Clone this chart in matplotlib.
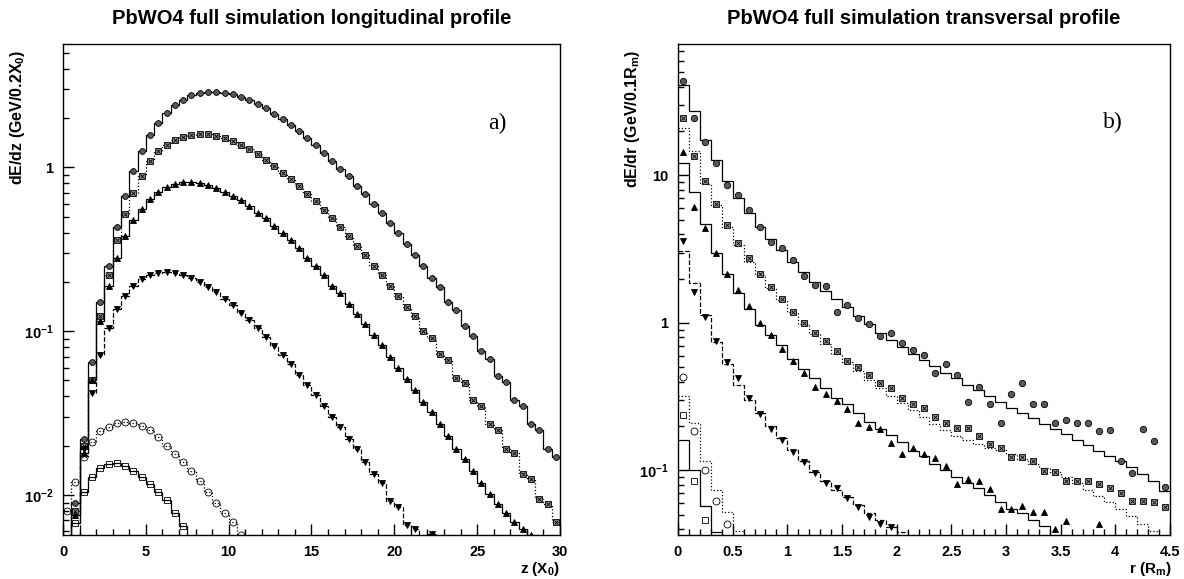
import numpy as np
import matplotlib.pyplot as plt
from matplotlib.ticker import (LogLocator, FixedLocator, MultipleLocator,
                               FuncFormatter, NullFormatter)

plt.rcParams['font.family'] = 'Liberation Sans'
plt.rcParams['font.weight'] = 'bold'
plt.rcParams['mathtext.fontset'] = 'custom'
plt.rcParams['mathtext.rm'] = 'Liberation Sans:bold'
plt.rcParams['mathtext.it'] = 'Liberation Sans:bold'
plt.rcParams['mathtext.bf'] = 'Liberation Sans:bold'

# ---- a) longitudinal profile, bins of 0.5 X0 starting at z = 0 ----
z_bin = 0.5
long_circles = [0.004, 0.009, 0.022, 0.065, 0.15, 0.25, 0.43, 0.67, 0.95, 1.26,
                1.57, 1.87, 2.15, 2.40, 2.59, 2.75, 2.84, 2.90, 2.90, 2.86,
                2.79, 2.69, 2.57, 2.43, 2.29, 2.13, 1.97, 1.82, 1.66, 1.51,
                1.37, 1.23, 1.10, 0.98, 0.88, 0.77, 0.69, 0.60, 0.53, 0.46,
                0.40, 0.34, 0.29, 0.25, 0.21, 0.185, 0.150, 0.135, 0.108, 0.094,
                0.076, 0.068, 0.053, 0.049, 0.038, 0.035, 0.027, 0.025, 0.019, 0.017]
long_squares = [0.003, 0.008, 0.02, 0.05, 0.124, 0.22, 0.36, 0.52, 0.70, 0.88,
                1.10, 1.25, 1.37, 1.47, 1.54, 1.58, 1.60, 1.59, 1.56, 1.51,
                1.45, 1.37, 1.29, 1.20, 1.11, 1.02, 0.93, 0.85, 0.77, 0.69,
                0.62, 0.55, 0.49, 0.43, 0.38, 0.33, 0.29, 0.25, 0.22, 0.19,
                0.165, 0.140, 0.124, 0.100, 0.091, 0.073, 0.067, 0.052, 0.048, 0.038,
                0.035, 0.027, 0.025, 0.019, 0.018, 0.0135, 0.0125, 0.0095, 0.0088, 0.0068]
long_up = [0.003, 0.0075, 0.018, 0.05, 0.115, 0.19, 0.28, 0.38, 0.475, 0.56,
           0.64, 0.71, 0.76, 0.79, 0.81, 0.81, 0.80, 0.78, 0.75, 0.71,
           0.67, 0.63, 0.58, 0.53, 0.49, 0.44, 0.40, 0.36, 0.32, 0.28,
           0.25, 0.22, 0.19, 0.17, 0.147, 0.127, 0.110, 0.095, 0.082, 0.070,
           0.060, 0.051, 0.044, 0.037, 0.032, 0.027, 0.023, 0.019, 0.0165, 0.014,
           0.0118, 0.0102, 0.0088, 0.0078, 0.0068, 0.0062, 0.0057]
long_down = [0.003, 0.005, 0.019, 0.042, 0.072, 0.104, 0.136, 0.165, 0.189, 0.208,
             0.221, 0.228, 0.230, 0.228, 0.221, 0.211, 0.200, 0.187, 0.173, 0.158,
             0.144, 0.130, 0.117, 0.104, 0.092, 0.081, 0.072, 0.063, 0.054, 0.047,
             0.041, 0.035, 0.030, 0.026, 0.022, 0.019, 0.016, 0.0135, 0.0118, 0.0092,
             0.0085, 0.0066, 0.0062, 0.0052, 0.0058]
long_open_circles = [0.008, 0.012, 0.017, 0.021, 0.0245, 0.026, 0.0275, 0.028, 0.0275, 0.0265,
                     0.025, 0.0225, 0.020, 0.0178, 0.0158, 0.014, 0.0122, 0.0105, 0.009, 0.0078,
                     0.0068, 0.0057]
long_open_squares = [0.0045, 0.0067, 0.0105, 0.0128, 0.0147, 0.0155, 0.0156, 0.0150, 0.0141, 0.0129,
                     0.0117, 0.0105, 0.0093, 0.0078, 0.0065, 0.0054]

# ---- b) transversal profile, bins of 0.1 Rm starting at r = 0 ----
r_bin = 0.1
tr_circles = [43.9, 24.4, 17.0, 12.1, 8.6, 7.35, 5.87, 4.46, 3.53, 3.24,
              2.67, 2.08, 1.80, 1.77, 1.19, 1.32, 1.08, 0.99, 0.81, 0.86,
              0.73, 0.66, 0.61, 0.46, 0.53, 0.44, 0.29, 0.37, 0.28, 0.21,
              0.33, 0.39, 0.28, 0.28, 0.21, 0.22, 0.21, 0.21, 0.185, 0.187,
              0.116, 0.096, 0.19, 0.158, 0.077]
tr_circles_mc = [40.9, 27.2, 17.5, 12.8, 9.2, 7.0, 5.6, 4.5, 3.7, 3.1,
                 2.6, 2.2, 1.9, 1.65, 1.45, 1.28, 1.12, 0.98, 0.86, 0.76,
                 0.69, 0.62, 0.56, 0.51, 0.46, 0.42, 0.38, 0.35, 0.32, 0.29,
                 0.265, 0.245, 0.225, 0.205, 0.19, 0.175, 0.16, 0.148, 0.136, 0.126,
                 0.116, 0.105, 0.094, 0.084, 0.072]
tr_squares = [24.4, 13.6, 9.14, 6.4, 4.65, 3.5, 2.75, 2.14, 1.74, 1.45,
              1.19, 1.0, 0.85, 0.75, 0.64, 0.55, 0.50, 0.44, 0.39, 0.36,
              0.31, 0.28, 0.265, 0.23, 0.21, 0.195, 0.195, 0.17, 0.15, 0.142,
              0.124, 0.124, 0.115, 0.099, 0.097, 0.084, 0.085, 0.085, 0.081, 0.076,
              0.070, 0.062, 0.062, 0.061, 0.056]
tr_squares_mc = [21.0, 14.7, 8.8, 6.3, 4.5, 3.4, 2.6, 2.1, 1.72, 1.42,
                 1.18, 0.98, 0.84, 0.72, 0.62, 0.54, 0.47, 0.41, 0.36, 0.32,
                 0.285, 0.255, 0.23, 0.207, 0.187, 0.172, 0.160, 0.150, 0.142, 0.137,
                 0.130, 0.120, 0.110, 0.103, 0.098, 0.090, 0.082, 0.074, 0.067, 0.061,
                 0.055, 0.049, 0.043, 0.039, 0.035]
tr_up = [14.4, 6.14, 4.37, 2.97, 2.16, 1.67, 1.30, 1.0, 0.83, 0.67,
         0.55, 0.46, 0.37, 0.33, 0.294, 0.26, 0.21, 0.198, 0.19, 0.153,
         0.129, 0.142, 0.13, 0.122, 0.107, 0.081, 0.087, 0.085, 0.075, 0.055,
         0.055, 0.057, 0.052, 0.052, 0.040, 0.045, np.nan, np.nan, 0.043]
tr_up_mc = [12.2, 7.7, 4.7, 3.0, 2.16, 1.6, 1.24, 0.97, 0.83, 0.71,
            0.57, 0.49, 0.42, 0.36, 0.31, 0.28, 0.245, 0.214, 0.19, 0.173,
            0.155, 0.136, 0.126, 0.11, 0.10, 0.090, 0.082, 0.076, 0.068, 0.061,
            0.055, 0.051, 0.046, 0.042, 0.036]
tr_down = [3.6, 1.63, 1.09, 0.75, 0.54, 0.42, 0.31, 0.24, 0.19, 0.16,
           0.134, 0.114, 0.096, 0.082, 0.076, 0.065, 0.056, 0.048, 0.043, 0.041]
tr_down_mc = [3.07, 1.87, 1.14, 0.74, 0.53, 0.38, 0.30, 0.244, 0.20, 0.165,
              0.138, 0.116, 0.098, 0.085, 0.074, 0.066, 0.058, 0.051, 0.046, 0.041,
              0.038]
tr_open_circles = [0.43, 0.185, 0.10, 0.062, 0.043]
tr_open_circles_mc = [0.32, 0.21, 0.116, 0.074, 0.052, 0.039]
tr_open_squares = [0.238, 0.085, 0.046]
tr_open_squares_mc = [0.16, 0.10, 0.057, 0.038]


def series(ax, width, vals, ls=None, marker=None, face='k', ms=4.2, cross=False):
    vals = np.asarray(vals, dtype=float)
    edges = np.arange(len(vals) + 1) * width
    if ls is not None:
        ax.stairs(vals, edges, baseline=None, color='k', linestyle=ls, lw=0.9)
    if marker is not None:
        cen = 0.5 * (edges[:-1] + edges[1:])
        ax.plot(cen, vals, ls='none', marker=marker, ms=ms, mfc=face,
                mec='k', mew=0.6)
        if cross:
            ax.plot(cen, vals, ls='none', marker='x', ms=ms * 0.6, mec='k',
                    mew=0.6)


def log_label(v, pos):
    e = int(round(np.log10(v)))
    if e >= 0:
        return '%d' % round(v)
    return r'$10^{%d}$' % e


def style(ax, xmax, xmajor, xminor, ylim, majors):
    ax.set_yscale('log')
    ax.set_xlim(0, xmax)
    ax.set_ylim(*ylim)
    ax.xaxis.set_major_locator(MultipleLocator(xmajor))
    ax.xaxis.set_minor_locator(MultipleLocator(xminor))
    ax.xaxis.set_major_formatter(FuncFormatter(lambda v, p: '%g' % v))
    ax.yaxis.set_major_locator(FixedLocator(majors))
    ax.yaxis.set_major_formatter(FuncFormatter(log_label))
    ax.yaxis.set_minor_locator(LogLocator(base=10, subs=np.arange(2, 10)))
    ax.yaxis.set_minor_formatter(NullFormatter())
    ax.tick_params(which='both', direction='in', top=False, right=False,
                   width=1, labelsize=10.5, pad=7)
    ax.tick_params(which='major', length=8)
    ax.tick_params(which='minor', length=4)
    for s in ax.spines.values():
        s.set_linewidth(1)


W, H = 1184, 579
fig = plt.figure(figsize=(W / 100, H / 100), dpi=100)
ax1 = fig.add_axes([63 / W, 1 - 535 / H, 497 / W, 491 / H])
ax2 = fig.add_axes([678 / W, 1 - 535 / H, 492 / W, 491 / H])

# a) longitudinal
series(ax1, z_bin, long_circles, '-', 'o', '0.35')
series(ax1, z_bin, long_squares, ':', 's', '0.55', cross=True)
series(ax1, z_bin, long_up, '-', '^', 'k')
series(ax1, z_bin, long_down, '--', 'v', 'k')
series(ax1, z_bin, long_open_circles, ':', 'o', 'none', ms=5)
series(ax1, z_bin, long_open_squares, '-', 's', 'none', ms=4.6)
style(ax1, 30, 5, 1, (0.0057, 5.66), [0.01, 0.1, 1])
ax1.text(26.2, 1.85, 'a)', family='Liberation Serif', weight='normal',
         fontsize=17, ha='center', va='center')

# b) transversal
series(ax2, r_bin, tr_circles_mc, '-')
series(ax2, r_bin, tr_circles, None, 'o', '0.35', ms=4.6)
series(ax2, r_bin, tr_squares_mc, ':')
series(ax2, r_bin, tr_squares, None, 's', '0.6', ms=4.6, cross=True)
series(ax2, r_bin, tr_up_mc, '-')
series(ax2, r_bin, tr_up, None, '^', 'k', ms=4.6)
series(ax2, r_bin, tr_down_mc, '--')
series(ax2, r_bin, tr_down, None, 'v', 'k', ms=4.6)
series(ax2, r_bin, tr_open_circles_mc, ':')
series(ax2, r_bin, tr_open_circles, None, 'o', 'none', ms=5)
series(ax2, r_bin, tr_open_squares_mc, '-')
series(ax2, r_bin, tr_open_squares, None, 's', 'none', ms=5)
style(ax2, 4.5, 0.5, 0.1, (0.0364, 78), [0.1, 1, 10])
ax2.text(3.98, 22.8, 'b)', family='Liberation Serif', weight='normal',
         fontsize=17, ha='center', va='center')

# titles and axis labels placed like the PAW layout
fig.text((63 + 560) / 2 / W, 1 - 18 / H, 'PbWO4 full simulation longitudinal profile',
         ha='center', va='center', fontsize=14.5)
fig.text((678 + 1170) / 2 / W, 1 - 18 / H, 'PbWO4 full simulation transversal profile',
         ha='center', va='center', fontsize=14.5)
fig.text(18 / W, 1 - 50 / H, r'dE/dz (GeV/0.2X$_0$)', rotation=90,
         ha='center', va='top', fontsize=11.5)
fig.text(632 / W, 1 - 50 / H, r'dE/dr (GeV/0.1R$_m$)', rotation=90,
         ha='center', va='top', fontsize=11.5)
fig.text(560 / W, 1 - 569 / H, r'z (X$_0$)', ha='right', va='center', fontsize=11)
fig.text(1172 / W, 1 - 569 / H, r'r (R$_m$)', ha='right', va='center', fontsize=11)

fig.savefig('out.png', dpi=100)
